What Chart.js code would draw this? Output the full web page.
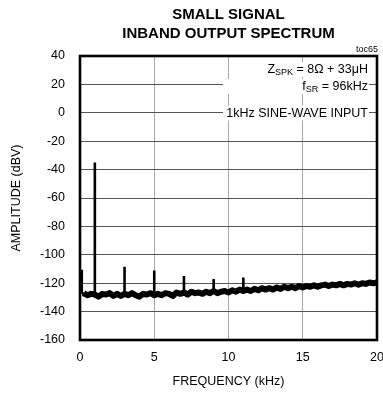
<!DOCTYPE html>
<html><head><meta charset="utf-8">
<script src="https://cdn.jsdelivr.net/npm/chart.js@4"></script>
<style>html,body{margin:0;padding:0;background:#fff}#wrap{width:383px;height:394px}</style>
</head><body><div id="wrap"><canvas id="c" width="383" height="394"></canvas></div>
<script>
const titleLines = ["SMALL SIGNAL", "INBAND OUTPUT SPECTRUM"];
const tocLabel = "toc65";
const xAxisTitle = "FREQUENCY (kHz)";
const yAxisTitle = "AMPLITUDE (dBV)";
const xTickValues = [0, 5, 10, 15, 20];
const yTickValues = [40, 20, 0, -20, -40, -60, -80, -100, -120, -140, -160];

// harmonic / tone spikes (kHz, dBV)
const spikeFreqKHz = [0.12, 1, 3, 5, 7, 9, 11];
const spikePeakDbv = [-110.5, -35, -108.5, -111, -115, -117, -116];
const spikeBaseDbv = [-127.5, -128, -127.5, -128.5, -126.5, -125.5, -125.5];

// noise floor trace
const noiseFreqKHz = [0.25,0.5,0.75,1,1.25,1.5,1.75,2,2.25,2.5,2.75,3,3.25,3.5,3.75,4,4.25,4.5,4.75,5,
  5.25,5.5,5.75,6,6.25,6.5,6.75,7,7.25,7.5,7.75,8,8.25,8.5,8.75,9,9.25,9.5,9.75,10,
  10.25,10.5,10.75,11,11.25,11.5,11.75,12,12.25,12.5,12.75,13,13.25,13.5,13.75,14,14.25,14.5,14.75,15,
  15.25,15.5,15.75,16,16.25,16.5,16.75,17,17.25,17.5,17.75,18,18.25,18.5,18.75,19,19.25,19.5,19.75,20];
const noiseDbv = [-127,-128.5,-127.5,-128,-129.5,-127.5,-128,-127,-129,-127.5,-129,-127.5,-128.5,-127,-128.5,-129.5,-127.5,-128,-127,-128.5,
  -127.5,-128.5,-127,-127.5,-129,-126.5,-127.5,-126.5,-128,-126,-127,-126.5,-127.5,-126,-127,-125.5,-127,-126,-125.5,-126.5,
  -125,-126,-124.5,-125.5,-124.5,-125.5,-124,-125,-123.5,-124.5,-123.5,-124.5,-123,-124,-122.5,-123.5,-122.5,-123.5,-122,-123,
  -122,-122.5,-121.5,-122.5,-121.5,-121,-122,-121,-121.5,-120.5,-121.5,-120.5,-121,-120,-121,-120,-120.5,-119.5,-120,-119.5];

const annotLines = [
  {main: "Z", sub: "SPK", rest: " = 8Ω + 33μH"},
  {main: "f", sub: "SR", rest: " = 96kHz"},
  {main: "1kHz SINE-WAVE INPUT", sub: "", rest: ""}
];

const FONT = "'Liberation Sans', Arial, sans-serif";

const noisePoints = noiseFreqKHz.map((f, i) => ({x: f, y: noiseDbv[i]}));
const spikePoints = [];
spikeFreqKHz.forEach((f, i) => {
  spikePoints.push({x: f, y: spikeBaseDbv[i]});
  spikePoints.push({x: f, y: spikePeakDbv[i]});
  spikePoints.push({x: f, y: null});
});
const dcPoints = [{x: 0.12, y: -127.5}, {x: 0.25, y: -127}];

const decor = {
  id: 'decor',
  afterDatasetsDraw(chart) {
    const ctx = chart.ctx, a = chart.chartArea;
    ctx.save();
    const rightX = 368;
    const baselines = [73, 90, 116.5];
    const boxLeft = [null, 223, 223];
    annotLines.forEach((ln, i) => {
      ctx.font = "12.5px " + FONT;
      const wMain = ctx.measureText(ln.main).width;
      const wRest = ctx.measureText(ln.rest).width;
      ctx.font = "9px " + FONT;
      const wSub = ctx.measureText(ln.sub).width;
      const total = wMain + wSub + wRest;
      const x0 = rightX - total;
      const bl = baselines[i];
      const left = boxLeft[i] !== null ? boxLeft[i] : x0 - 2;
      ctx.fillStyle = '#fff';
      ctx.fillRect(left, bl - 11, rightX - left + 1, 15);
      ctx.fillStyle = '#000';
      ctx.textBaseline = 'alphabetic';
      ctx.textAlign = 'left';
      ctx.font = "12.5px " + FONT;
      ctx.fillText(ln.main, x0, bl);
      ctx.font = "9px " + FONT;
      ctx.fillText(ln.sub, x0 + wMain, bl + 2);
      ctx.font = "12.5px " + FONT;
      ctx.fillText(ln.rest, x0 + wMain + wSub, bl);
    });
    ctx.strokeStyle = '#000';
    ctx.lineWidth = 2.6;
    ctx.strokeRect(a.left, a.top, a.right - a.left, a.bottom - a.top);
    ctx.fillStyle = '#000';
    ctx.textAlign = 'center';
    ctx.textBaseline = 'middle';
    ctx.font = "bold 15px " + FONT;
    const cx = (a.left + a.right) / 2;
    ctx.fillText(titleLines[0], cx, 15);
    ctx.fillText(titleLines[1], cx, 34);
    ctx.font = "9px " + FONT;
    ctx.textAlign = 'right';
    ctx.fillText(tocLabel, a.right + 1, 50);
    ctx.restore();
  }
};

new Chart(document.getElementById('c'), {
  type: 'line',
  data: {
    datasets: [
      {data: noisePoints, borderColor: '#000', borderWidth: 6, pointRadius: 0, tension: 0, borderJoinStyle: 'round'},
      {data: dcPoints, borderColor: '#000', borderWidth: 6, pointRadius: 0, tension: 0},
      {data: spikePoints, borderColor: '#000', borderWidth: 2.6, pointRadius: 0, tension: 0, spanGaps: false}
    ]
  },
  options: {
    responsive: false,
    animation: false,
    events: [],
    layout: {padding: {top: 56, right: 6, left: 0, bottom: 0}},
    plugins: {legend: {display: false}, tooltip: {enabled: false}, title: {display: false}},
    scales: {
      x: {
        type: 'linear', min: 0, max: 20,
        afterBuildTicks: s => { s.ticks = xTickValues.map(v => ({value: v})); },
        afterFit: s => { s.height = 54; s.paddingLeft = 0; s.paddingRight = 0; },
        grid: {color: '#a8a8a8', lineWidth: 1, drawTicks: false},
        border: {display: false},
        ticks: {color: '#000', font: {family: FONT, size: 12.5}, padding: 10.5, maxRotation: 0, autoSkip: false},
        title: {display: true, text: xAxisTitle, color: '#000', font: {family: FONT, size: 12.5}, padding: {top: 0, bottom: 5}}
      },
      y: {
        type: 'linear', min: -160, max: 40,
        afterBuildTicks: s => { s.ticks = yTickValues.map(v => ({value: v})); },
        afterFit: s => { s.width = 80; s.paddingTop = 0; s.paddingBottom = 0; },
        grid: {color: '#555', lineWidth: 1, drawTicks: false},
        border: {display: false},
        ticks: {color: '#000', font: {family: FONT, size: 12.5}, padding: 15, autoSkip: false},
        title: {display: true, text: yAxisTitle, color: '#000', font: {family: FONT, size: 12.5}, padding: {top: 9.5, bottom: 0}}
      }
    }
  },
  plugins: [decor]
});
</script></body></html>
